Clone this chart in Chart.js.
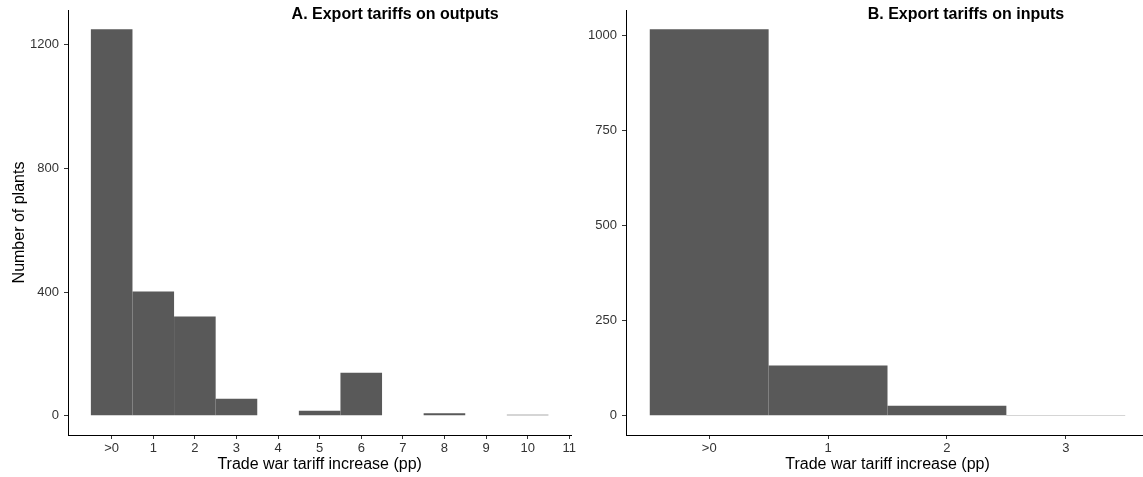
<!DOCTYPE html>
<html>
<head>
<meta charset="utf-8">
<script src="https://cdn.jsdelivr.net/npm/chart.js@4.4.0/dist/chart.umd.min.js"></script>
<style>
  html, body { margin: 0; padding: 0; background: #fff; overflow: hidden; }
  body { width: 1143px; height: 477px; position: relative; }
  .panel { position: absolute; top: 0; height: 477px; }
  #panelA { left: 0; width: 578px; }
  #panelB { left: 580px; width: 569px; }
</style>
</head>
<body>
<div class="panel" id="panelA"><canvas id="chartA"></canvas></div>
<div class="panel" id="panelB"><canvas id="chartB"></canvas></div>
<script>
// panel A - tariffs on outputs
const binsA = [0, 1, 2, 3, 4, 5, 6, 7, 8, 9, 10];
const countsA = [1250, 402, 321, 55, 0, 16, 139, 0, 8, 0, 3];
const xTicksA = [0, 1, 2, 3, 4, 5, 6, 7, 8, 9, 10, 11];
const yTicksA = [0, 400, 800, 1200];

// panel B - tariffs on inputs
const binsB = [0, 1, 2, 3];
const countsB = [1015, 132, 26, 2];
const xTicksB = [0, 1, 2, 3];
const yTicksB = [0, 250, 500, 750, 1000];

const titleA = "A. Export tariffs on outputs";
const titleB = "B. Export tariffs on inputs";
const xTitle = "Trade war tariff increase (pp)";
const yTitle = "Number of plants";

const FONT = '"Liberation Sans", Arial, sans-serif';

// panel title, drawn at a fraction of the plot width
const panelTitle = {
  id: "panelTitle",
  afterDraw(chart, args, opts) {
    const { ctx, chartArea } = chart;
    ctx.save();
    ctx.font = "bold 16px " + FONT;
    ctx.fillStyle = "#000";
    ctx.textAlign = "center";
    ctx.textBaseline = "middle";
    ctx.fillText(opts.text, chartArea.left + opts.pos * (chartArea.right - chartArea.left), opts.y);
    ctx.restore();
  }
};

function makeChart(id, bins, counts, xTicks, yTicks, xMin, xMax, yMin, yMax, yWidth, title, showY, padRight) {
  const ctx = document.getElementById(id).getContext("2d");
  return new Chart(ctx, {
    type: "bar",
    data: {
      datasets: [{
        data: bins.map((b, i) => ({ x: b, y: counts[i] })),
        backgroundColor: "#595959",
        borderWidth: 0,
        inflateAmount: 0,
        barPercentage: 1,
        categoryPercentage: 1
      }]
    },
    options: {
      responsive: true,
      maintainAspectRatio: false,
      animation: false,
      devicePixelRatio: 1,
      layout: { padding: { top: 10, right: padRight, left: 0, bottom: 0 } },
      plugins: {
        legend: { display: false },
        tooltip: { enabled: false },
        panelTitle: { text: title, pos: 0.65, y: 15 }
      },
      scales: {
        x: {
          type: "linear",
          min: xMin,
          max: xMax,
          offset: false,
          afterBuildTicks: s => { s.ticks = xTicks.map(v => ({ value: v })); },
          afterFit: s => { s.height = 42; },
          grid: { display: true, offset: false, drawOnChartArea: false, drawTicks: true, tickLength: 4, color: "#333" },
          border: { display: true, color: "#000", width: 1 },
          ticks: {
            padding: 2,
            color: "#333",
            font: { family: FONT, size: 13 },
            autoSkip: false,
            maxRotation: 0,
            callback: v => (v === 0 ? ">0" : String(v))
          },
          title: {
            display: true,
            text: xTitle,
            color: "#000",
            font: { family: FONT, size: 16 },
            padding: { top: 2, bottom: 2.4 }
          }
        },
        y: {
          min: yMin,
          max: yMax,
          afterBuildTicks: s => { s.ticks = yTicks.map(v => ({ value: v })); },
          afterFit: s => { s.width = yWidth; s.paddingTop = 0; s.paddingBottom = 0; },
          grid: { display: true, drawOnChartArea: false, drawTicks: true, tickLength: 4, color: "#333" },
          border: { display: true, color: "#000", width: 1 },
          ticks: {
            padding: 5,
            color: "#333",
            font: { family: FONT, size: 13 },
            callback: v => String(v)
          },
          title: {
            display: showY,
            text: yTitle,
            color: "#000",
            font: { family: FONT, size: 16 },
            padding: { top: 10, bottom: 0 }
          }
        }
      }
    },
    plugins: [panelTitle]
  });
}

makeChart("chartA", binsA, countsA, xTicksA, yTicksA, -1.05, 11.05, -62.5, 1312.5, 68, titleA, true, 6);
makeChart("chartB", binsB, countsB, xTicksB, yTicksB, -0.7, 3.7, -50.75, 1065.75, 46, titleB, false, 0);
</script>
</body>
</html>
